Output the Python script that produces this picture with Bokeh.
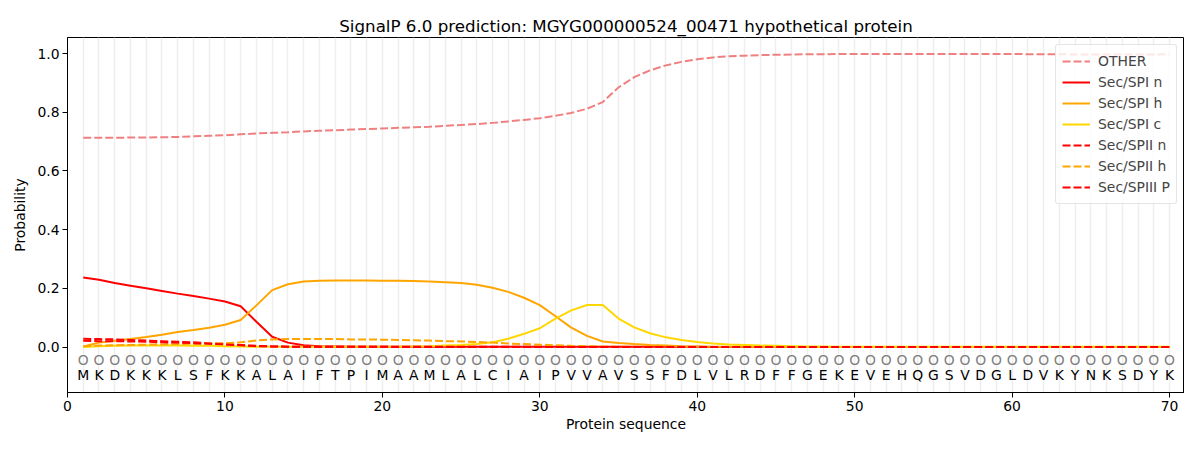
from bokeh.plotting import figure
from bokeh.models import FixedTicker, CustomJSTickFormatter
from bokeh.core.properties import value
from bokeh.embed import file_html
from bokeh.resources import INLINE

sequence = list("MKDKKKLSFKKALAIFTPIMAAMLALCIAIPVVAVSSFDLVLRDFFGEKEVEHQGSVDGLDVKYNKSDYK")
positions = list(range(1, len(sequence) + 1))

other = [0.713, 0.713, 0.713, 0.714, 0.714, 0.715, 0.716, 0.718, 0.720, 0.722,
         0.725, 0.728, 0.730, 0.732, 0.735, 0.737, 0.739, 0.741, 0.743, 0.745,
         0.747, 0.749, 0.751, 0.754, 0.757, 0.760, 0.764, 0.769, 0.774, 0.780,
         0.788, 0.798, 0.812, 0.835, 0.885, 0.920, 0.943, 0.960, 0.972, 0.981,
         0.987, 0.991, 0.993, 0.995, 0.996, 0.997, 0.998, 0.998, 0.999, 0.999,
         0.999, 0.999, 0.999, 0.999, 0.999, 0.999, 0.999, 0.999, 0.999, 0.999,
         0.998, 0.998, 0.998, 0.997, 0.997, 0.997, 0.997, 0.997, 0.997, 0.998]

spi_n = [0.237, 0.229, 0.218, 0.209, 0.200, 0.191, 0.182, 0.174, 0.165, 0.155,
         0.139, 0.086, 0.035, 0.015, 0.006, 0.003, 0.002, 0.001, 0.001, 0.001,
         0.001, 0.001, 0.001, 0.001, 0.001, 0.001, 0.001, 0.001, 0.001, 0.001,
         0.001, 0.001, 0.001, 0.001, 0.001, 0.001, 0.001, 0.001, 0.001, 0.001,
         0.000, 0.000, 0.000, 0.000, 0.000, 0.000, 0.000, 0.000, 0.000, 0.000,
         0.000, 0.000, 0.000, 0.000, 0.000, 0.000, 0.000, 0.000, 0.000, 0.000,
         0.000, 0.000, 0.000, 0.000, 0.000, 0.000, 0.000, 0.000, 0.000, 0.000]

spi_h = [0.002, 0.015, 0.021, 0.027, 0.034, 0.042, 0.051, 0.058, 0.066, 0.076,
         0.092, 0.142, 0.194, 0.214, 0.223, 0.226, 0.227, 0.227, 0.227, 0.226,
         0.226, 0.225, 0.223, 0.221, 0.218, 0.212, 0.202, 0.188, 0.168, 0.143,
         0.105, 0.066, 0.038, 0.019, 0.014, 0.010, 0.007, 0.005, 0.003, 0.002,
         0.001, 0.001, 0.001, 0.000, 0.000, 0.000, 0.000, 0.000, 0.000, 0.000,
         0.000, 0.000, 0.000, 0.000, 0.000, 0.000, 0.000, 0.000, 0.000, 0.000,
         0.000, 0.000, 0.000, 0.000, 0.000, 0.000, 0.000, 0.000, 0.000, 0.000]

spi_c = [0.000, 0.003, 0.004, 0.005, 0.005, 0.005, 0.005, 0.004, 0.004, 0.003,
         0.002, 0.001, 0.001, 0.001, 0.001, 0.001, 0.001, 0.001, 0.001, 0.001,
         0.001, 0.002, 0.003, 0.005, 0.007, 0.010, 0.016, 0.028, 0.045, 0.064,
         0.097, 0.125, 0.143, 0.143, 0.097, 0.067, 0.047, 0.033, 0.024, 0.017,
         0.012, 0.009, 0.007, 0.005, 0.004, 0.003, 0.002, 0.002, 0.001, 0.001,
         0.001, 0.001, 0.001, 0.001, 0.001, 0.001, 0.001, 0.001, 0.001, 0.001,
         0.001, 0.001, 0.001, 0.001, 0.001, 0.001, 0.001, 0.001, 0.001, 0.001]

spii_n = [0.028, 0.027, 0.026, 0.024, 0.022, 0.020, 0.018, 0.016, 0.013, 0.010,
          0.007, 0.004, 0.002, 0.001, 0.001, 0.001, 0.001, 0.001, 0.001, 0.001,
          0.001, 0.001, 0.001, 0.001, 0.001, 0.001, 0.001, 0.001, 0.001, 0.001,
          0.000, 0.000, 0.000, 0.000, 0.000, 0.000, 0.000, 0.000, 0.000, 0.000,
          0.000, 0.000, 0.000, 0.000, 0.000, 0.000, 0.000, 0.000, 0.000, 0.000,
          0.000, 0.000, 0.000, 0.000, 0.000, 0.000, 0.000, 0.000, 0.000, 0.000,
          0.000, 0.000, 0.000, 0.000, 0.000, 0.000, 0.000, 0.000, 0.000, 0.000]

spii_h = [0.003, 0.005, 0.006, 0.007, 0.008, 0.009, 0.010, 0.011, 0.012, 0.013,
          0.016, 0.022, 0.026, 0.027, 0.027, 0.027, 0.027, 0.026, 0.026, 0.025,
          0.024, 0.023, 0.022, 0.020, 0.019, 0.017, 0.015, 0.012, 0.010, 0.008,
          0.006, 0.004, 0.003, 0.002, 0.001, 0.001, 0.001, 0.000, 0.000, 0.000,
          0.000, 0.000, 0.000, 0.000, 0.000, 0.000, 0.000, 0.000, 0.000, 0.000,
          0.000, 0.000, 0.000, 0.000, 0.000, 0.000, 0.000, 0.000, 0.000, 0.000,
          0.000, 0.000, 0.000, 0.000, 0.000, 0.000, 0.000, 0.000, 0.000, 0.000]

spiii_p = [0.021, 0.020, 0.020, 0.019, 0.018, 0.016, 0.015, 0.013, 0.011, 0.009,
           0.006, 0.003, 0.002, 0.001, 0.001, 0.001, 0.001, 0.001, 0.001, 0.001,
           0.000, 0.000, 0.000, 0.000, 0.000, 0.000, 0.000, 0.000, 0.000, 0.000,
           0.000, 0.000, 0.000, 0.000, 0.000, 0.000, 0.000, 0.000, 0.000, 0.000,
           0.000, 0.000, 0.000, 0.000, 0.000, 0.000, 0.000, 0.000, 0.000, 0.000,
           0.000, 0.000, 0.000, 0.000, 0.000, 0.000, 0.000, 0.000, 0.000, 0.000,
           0.000, 0.000, 0.000, 0.000, 0.000, 0.000, 0.000, 0.000, 0.000, 0.000]

x_ticks = [0, 10, 20, 30, 40, 50, 60, 70]
y_ticks = [0.0, 0.2, 0.4, 0.6, 0.8, 1.0]

FONT = "DejaVu Sans"

p = figure(width=1184, height=434, x_range=(0, 70.95), y_range=(-0.155, 1.055),
           output_backend="svg", toolbar_location=None,
           min_border_left=67, min_border_right=0, min_border_top=37, min_border_bottom=42)

p.title.text = "SignalP 6.0 prediction: MGYG000000524_00471 hypothetical protein"
p.title.align = "center"
p.title.text_font = FONT
p.title.text_font_size = "16.7px"
p.title.text_font_style = "normal"
p.title.text_color = "black"
p.title.standoff = 3

p.outline_line_color = "black"
p.outline_line_width = 1
p.outline_line_alpha = 1

p.ygrid.visible = False
p.xgrid.ticker = FixedTicker(ticks=positions)
p.xgrid.grid_line_color = "#eeeeee"
p.xgrid.grid_line_width = 1.5

p.xaxis.ticker = FixedTicker(ticks=x_ticks)
p.yaxis.ticker = FixedTicker(ticks=y_ticks)
p.yaxis.formatter = CustomJSTickFormatter(code="return tick.toFixed(1);")

for ax in (p.xaxis[0], p.yaxis[0]):
    ax.major_label_text_font = FONT
    ax.major_label_text_font_size = "13.9px"
    ax.major_label_text_color = "black"
    ax.axis_label_text_font = FONT
    ax.axis_label_text_font_size = "13.9px"
    ax.axis_label_text_font_style = "normal"
    ax.axis_label_text_color = "black"
    ax.minor_tick_line_color = None
    ax.major_tick_in = 0
    ax.major_tick_out = 5
    ax.major_label_standoff = 3
    ax.axis_line_color = "black"
    ax.major_tick_line_color = "black"
p.xaxis.major_label_text_line_height = 1.0
p.xaxis.axis_label_text_line_height = 1.0
p.xaxis.axis_label = "Protein sequence"
p.yaxis.axis_label = "Probability"
p.xaxis.axis_label_standoff = 2
p.yaxis.axis_label_standoff = 6

dash = "8 3"
p.line(positions, other, color="#F08080", line_width=2, line_dash=dash, legend_label="OTHER")
p.line(positions, spi_n, color="#FF0000", line_width=2, legend_label="Sec/SPI n")
p.line(positions, spi_h, color="#FFA500", line_width=2, legend_label="Sec/SPI h")
p.line(positions, spi_c, color="#FFD700", line_width=2, legend_label="Sec/SPI c")
p.line(positions, spii_n, color="#FF0000", line_width=2, line_dash=dash, legend_label="Sec/SPII n")
p.line(positions, spii_h, color="#FFA500", line_width=2, line_dash=dash, legend_label="Sec/SPII h")
p.line(positions, spiii_p, color="#FF0000", line_width=2, line_dash=dash, legend_label="Sec/SPIII P")

p.text(x=positions, y=[-0.045] * len(positions), text=["O"] * len(positions),
       text_color="gray", text_align="center", text_baseline="middle",
       text_font=value(FONT), text_font_size="13.9px")
p.text(x=positions, y=[-0.097] * len(positions), text=sequence,
       text_color="black", text_align="center", text_baseline="middle",
       text_font=value(FONT), text_font_size="13.9px")

lg = p.legend[0]
lg.location = "top_right"
lg.margin = 7
lg.padding = 6
lg.spacing = 1
lg.label_text_font = FONT
lg.label_text_font_size = "13.9px"
lg.label_height = 20
lg.glyph_height = 20
lg.glyph_width = 28
lg.label_standoff = 8
lg.border_line_color = "#cccccc"
lg.border_line_width = 1
lg.background_fill_alpha = 0.8
lg.border_radius = 3

open("out.html", "w").write(file_html(p, INLINE))
